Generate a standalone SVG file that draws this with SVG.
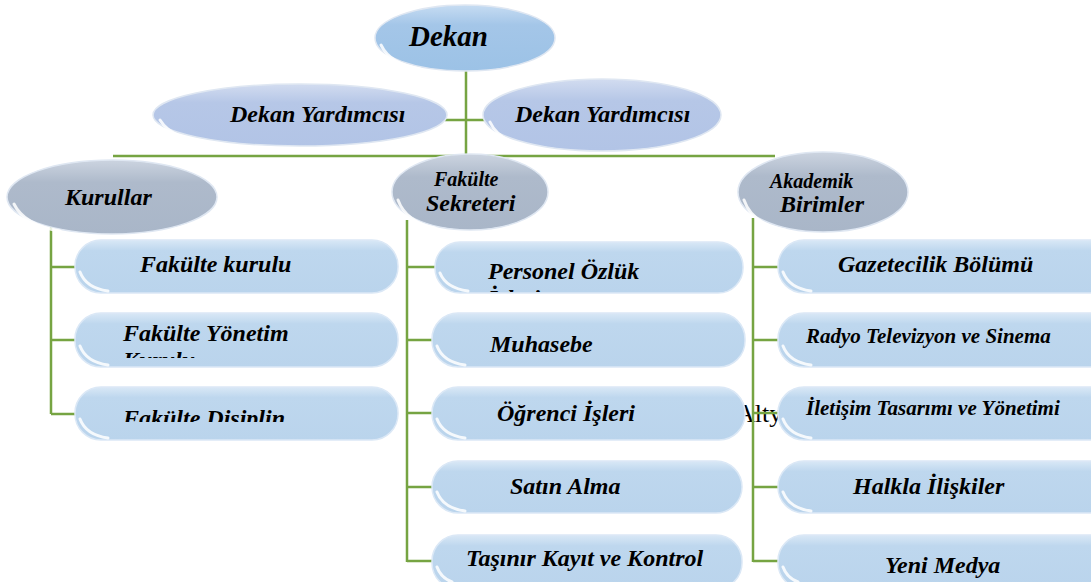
<svg xmlns="http://www.w3.org/2000/svg" width="1091" height="582" viewBox="0 0 1091 582">
<defs>
<linearGradient id="gTop" x1="0" y1="0" x2="0" y2="1"><stop offset="0" stop-color="#c6dcf2"/><stop offset="0.3" stop-color="#a4c6e8"/><stop offset="1" stop-color="#9cc2e6"/></linearGradient>
<linearGradient id="gYrd" x1="0" y1="0" x2="0" y2="1"><stop offset="0" stop-color="#d2dcf0"/><stop offset="0.3" stop-color="#b6c7e7"/><stop offset="1" stop-color="#b2c4e6"/></linearGradient>
<linearGradient id="gBr" x1="0" y1="0" x2="0" y2="1"><stop offset="0" stop-color="#ccd4e0"/><stop offset="0.3" stop-color="#aebacb"/><stop offset="1" stop-color="#a9b6c8"/></linearGradient>
<linearGradient id="gBox" x1="0" y1="0" x2="0" y2="1"><stop offset="0" stop-color="#d9e8f6"/><stop offset="0.2" stop-color="#bed7ee"/><stop offset="1" stop-color="#bad4ec"/></linearGradient>
<clipPath id="cYon"><rect x="75" y="313" width="323" height="45"/></clipPath>
<clipPath id="cDis"><rect x="75" y="388" width="323" height="34"/></clipPath>
<clipPath id="cPer"><rect x="435" y="242" width="308" height="50"/></clipPath>
</defs>
<style>
.t{font-family:"Liberation Serif","Times New Roman",serif;font-weight:bold;font-style:italic;fill:#000;}
.f24{font-size:24px}
.f21{font-size:21px}
.f20{font-size:20px}
.box{fill:url(#gBox);stroke:#dbe8f6;stroke-width:1.5}
.hl{fill:none;stroke:#ffffff;stroke-width:3;stroke-linecap:round;opacity:0.85}
.ln{fill:none;stroke:#76a442;stroke-width:2.5}
.el{stroke:#dfe7f2;stroke-width:1.5}
</style>
<rect width="1091" height="582" fill="#ffffff"/>
<text x="736" y="422" style="font-family:'Liberation Serif','Times New Roman',serif;font-size:26px;fill:#000">Altyapı</text>
<g id="connectors">
<path class="ln" d="M466,70 V156 M445,120 H486 M113,156 H775"/>
<path class="ln" d="M51,222 V414 M51,267 H76 M51,340 H76 M51,414 H76"/>
<path class="ln" d="M407,220 V562 M407,267 H436 M407,340 H434 M407,413 H434 M407,487 H434 M407,561 H434"/>
<path class="ln" d="M753,218 V562 M753,267 H779 M753,340 H779 M753,413 H779 M753,487 H779 M753,561 H779"/>
</g>
<g id="dekan">
<ellipse class="el" cx="465" cy="38" rx="90" ry="33" fill="url(#gTop)"/>
<path class="hl" d="M381,45 Q390,64 420,69"/>
<text class="t" x="409" y="46" style="font-size:29px">Dekan</text>
</g>
<g id="yardimci1">
<ellipse class="el" cx="300" cy="115" rx="147" ry="31" fill="url(#gYrd)"/>
<path class="hl" d="M160,120 Q172,140 215,144"/>
<text class="t f24" x="230" y="122">Dekan Yardımcısı</text>
</g>
<g id="yardimci2">
<ellipse class="el" cx="602" cy="115" rx="119" ry="36" fill="url(#gYrd)"/>
<path class="hl" d="M490,122 Q500,144 540,149"/>
<text class="t f24" x="515" y="122">Dekan Yardımcısı</text>
</g>
<g id="kurullar">
<ellipse class="el" cx="112" cy="197" rx="105" ry="37" fill="url(#gBr)"/>
<path class="hl" d="M14,204 Q24,225 60,231"/>
<text class="t f24" x="65" y="205">Kurullar</text>
</g>
<g id="sekreter">
<ellipse class="el" cx="470" cy="192" rx="78" ry="38" fill="url(#gBr)"/>
<path class="hl" d="M398,200 Q406,222 435,228"/>
<text class="t f20" x="434" y="186">Fakülte</text>
<text class="t f24" x="426" y="211">Sekreteri</text>
</g>
<g id="akademik">
<ellipse class="el" cx="823" cy="192" rx="85" ry="40" fill="url(#gBr)"/>
<path class="hl" d="M744,200 Q752,224 785,230"/>
<text class="t f20" x="770" y="188">Akademik</text>
<text class="t f24" x="780" y="212">Birimler</text>
</g>
<g id="kurul1">
<rect class="box" x="75" y="240" width="323" height="53" rx="26"/>
<path class="hl" d="M80,272 Q86,288 108,291"/>
<text class="t f24" x="140" y="272">Fakülte kurulu</text>
</g>
<g id="kurul2">
<rect class="box" x="75" y="313" width="323" height="54" rx="26"/>
<path class="hl" d="M80,346 Q86,362 108,365"/>
<g clip-path="url(#cYon)"><text class="t f24" x="123" y="341">Fakülte Yönetim</text><text class="t f24" x="123" y="368">Kurulu</text></g>
</g>
<g id="kurul3">
<rect class="box" x="75" y="387" width="323" height="53" rx="26"/>
<path class="hl" d="M80,419 Q86,435 108,438"/>
<g clip-path="url(#cDis)"><text class="t f24" x="123" y="426">Fakülte Disiplin</text></g>
</g>
<g id="personel">
<rect class="box" x="435" y="242" width="308" height="51" rx="25"/>
<path class="hl" d="M440,273 Q446,288 468,291"/>
<g clip-path="url(#cPer)"><text class="t f24" x="488" y="279">Personel Özlük</text><text class="t f24" x="488" y="306">İşleri</text></g>
</g>
<g id="muhasebe">
<rect class="box" x="432" y="313" width="313" height="54" rx="26"/>
<path class="hl" d="M437,346 Q443,362 465,365"/>
<text class="t f24" x="490" y="352">Muhasebe</text>
</g>
<g id="ogrenci">
<rect class="box" x="432" y="387" width="313" height="53" rx="26"/>
<path class="hl" d="M437,419 Q443,435 465,438"/>
<text class="t f24" x="497" y="421">Öğrenci İşleri</text>
</g>
<g id="satin">
<rect class="box" x="432" y="461" width="310" height="52" rx="26"/>
<path class="hl" d="M437,492 Q443,508 465,511"/>
<text class="t f24" x="510" y="494">Satın Alma</text>
</g>
<g id="tasinir">
<rect class="box" x="432" y="535" width="310" height="54" rx="26"/>
<path class="hl" d="M437,567 Q441,578 452,582"/>
<text class="t f24" x="466" y="566">Taşınır Kayıt ve Kontrol</text>
</g>
<g id="gazetecilik">
<rect class="box" x="778" y="240" width="340" height="53" rx="26"/>
<path class="hl" d="M783,272 Q789,288 811,291"/>
<text class="t f24" x="838" y="272">Gazetecilik Bölümü</text>
</g>
<g id="radyo">
<rect class="box" x="778" y="313" width="340" height="54" rx="26"/>
<path class="hl" d="M783,346 Q789,362 811,365"/>
<text class="t f21" x="806" y="343">Radyo Televizyon ve Sinema</text>
</g>
<g id="iletisim">
<rect class="box" x="778" y="387" width="340" height="53" rx="26"/>
<path class="hl" d="M783,419 Q789,435 811,438"/>
<text class="t f21" x="806" y="415">İletişim Tasarımı ve Yönetimi</text>
</g>
<g id="halkla">
<rect class="box" x="778" y="461" width="340" height="52" rx="26"/>
<path class="hl" d="M783,492 Q789,508 811,511"/>
<text class="t f24" x="853" y="494">Halkla İlişkiler</text>
</g>
<g id="yenimedya">
<rect class="box" x="778" y="535" width="340" height="54" rx="26"/>
<path class="hl" d="M783,567 Q787,578 798,582"/>
<text class="t f24" x="885" y="573">Yeni Medya</text>
</g>
</svg>
